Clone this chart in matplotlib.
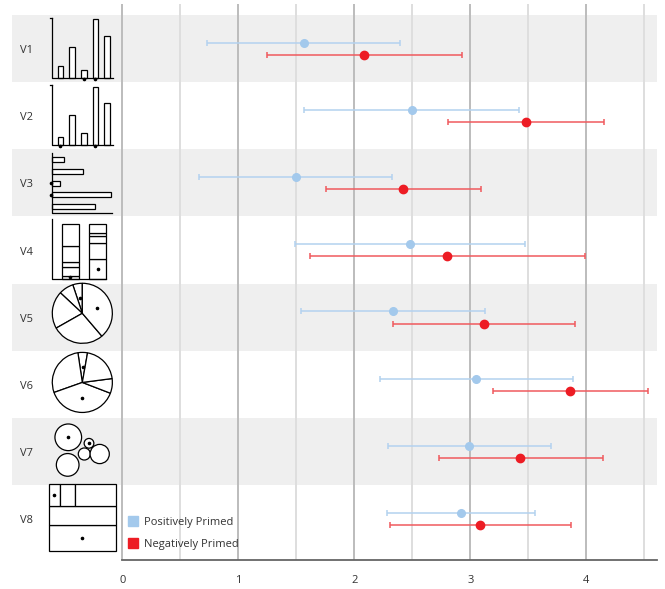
import numpy as np
import matplotlib
matplotlib.use("Agg")
import matplotlib.pyplot as plt
from matplotlib.patches import Rectangle, Circle
from matplotlib.lines import Line2D

plt.rcParams['font.family'] = ['Open Sans', 'DejaVu Sans']

# ---- data ----
rows = ["V1", "V2", "V3", "V4", "V5", "V6", "V7", "V8"]

pos_mean = [1.564, 2.495, 1.495, 2.477, 2.336, 3.049, 2.990, 2.922]
pos_lo = [0.730, 1.564, 0.661, 1.486, 1.543, 2.219, 2.288, 2.285]
pos_hi = [2.397, 3.420, 2.328, 3.474, 3.130, 3.888, 3.696, 3.560]

neg_mean = [2.086, 3.480, 2.420, 2.800, 3.115, 3.860, 3.431, 3.086]
neg_lo = [1.245, 2.810, 1.753, 1.615, 2.336, 3.193, 2.727, 2.305]
neg_hi = [2.931, 4.150, 3.092, 3.990, 3.900, 4.534, 4.141, 3.865]

# values used in the little stimulus icons (marked items get a dot)
v1_bars = [0.20, 0.51, 0.13, 0.98, 0.71]
v1_marked = [2, 3]
v2_bars = [0.13, 0.51, 0.20, 0.98, 0.71]
v2_marked = [0, 3]
v3_bars = [0.20, 0.51, 0.13, 0.98, 0.71]
v3_marked = [2, 3]
v4_stack1 = [0.05, 0.17, 0.09, 0.29, 0.40]   # bottom -> top
v4_stack2 = [0.37, 0.29, 0.12, 0.05, 0.17]
v5_pie = [0.13, 0.20, 0.51, 0.71, 0.98]
v5_marked = [0, 4]
v6_pie = [0.13, 0.71, 0.98, 0.20, 0.51]
v6_marked = [0, 2]
v7_bubbles = [0.98, 0.13, 0.20, 0.51, 0.71]
v7_marked = [0, 1]
v8_tree = [0.13, 0.20, 0.51, 0.71, 0.98]

xticks = [0, 1, 2, 3, 4]
legend_labels = ["Positively Primed", "Negatively Primed"]

blue = "#a3c9ec"
blue_line = "#b3d2ef"
red = "#ed1c24"
red_line = "#f05a5e"
band = "#efefef"
txt = "#333333"

W, H = 665, 589
fig = plt.figure(figsize=(W / 100, H / 100), dpi=100)


def px_axes(x, y, w, h):
    return fig.add_axes([x / W, 1 - (y + h) / H, w / W, h / H])


x0_px, unit = 122.3, 116.0
row_top, row_h = 15.0, 67.15
ax_top, ax_bot = 4.0, 560.0
ax = px_axes(12, ax_top, 657 - 12, ax_bot - ax_top)
ax.set_xlim(-(x0_px - 12) / unit, (657 - x0_px) / unit)
ax.set_ylim(8 + (ax_bot - row_top - 8 * row_h) / row_h, -(row_top - ax_top) / row_h)

for i in range(len(rows)):
    if i % 2 == 0:
        ax.axhspan(i, i + 1, color=band, lw=0, zorder=0)
    ax.text(-0.885, i + 0.53, rows[i], ha="left", va="center", fontsize=8, color=txt)

for g in np.arange(0, 5, 0.5):
    ax.axvline(g, color="#bcbcbc" if g % 1 == 0 else "#dedede", lw=1.4, zorder=1)

y = np.arange(len(rows))
pm, nm = np.array(pos_mean), np.array(neg_mean)
ax.errorbar(pm, y + 0.415, xerr=[pm - np.array(pos_lo), np.array(pos_hi) - pm],
            fmt="o", color=blue, ecolor=blue_line, elinewidth=1.1, capsize=2.3,
            capthick=1.1, markersize=5.5, zorder=3)
ax.errorbar(nm, y + 0.595, xerr=[nm - np.array(neg_lo), np.array(neg_hi) - nm],
            fmt="o", color=red, ecolor=red_line, elinewidth=1.1, capsize=2.3,
            capthick=1.1, markersize=6, zorder=3)

for s in ["top", "left", "right"]:
    ax.spines[s].set_visible(False)
ax.spines["bottom"].set_color("#666666")
ax.spines["bottom"].set_linewidth(1.3)
ax.spines["bottom"].set_bounds(0, ax.get_xlim()[1])
ax.set_xticks(xticks)
ax.set_yticks([])
ax.tick_params(axis="x", length=0, pad=11, labelsize=8, labelcolor=txt)

handles = [Line2D([], [], marker="s", ls="", color=blue, markersize=7),
           Line2D([], [], marker="s", ls="", color=red, markersize=7)]
fig.legend(handles, legend_labels, loc="upper left", bbox_to_anchor=(128 / W, 1 - 517 / H),
           frameon=False, fontsize=8, labelcolor=txt, handlelength=0.9,
           handletextpad=0.5, labelspacing=0.95, borderpad=0, borderaxespad=0)

# ---- stimulus icons ----
lw = 0.9


def icon_axes(i):
    a = px_axes(49, row_top + row_h * i, 66, 66)
    a.set_xlim(0, 1)
    a.set_ylim(0, 1)
    a.axis("off")
    return a


def dot(a, x, yy):
    a.plot(x, yy, "o", color="black", markersize=1.6, clip_on=False, zorder=5)


def vbars(a, vals, marked):
    a.plot([0.045, 0.045, 0.97], [0.95, 0.05, 0.05], color="black", lw=lw)
    a.plot([0.015, 0.045], [0.95, 0.95], color="black", lw=lw)
    for k, v in enumerate(vals):
        a.add_patch(Rectangle((0.13 + 0.177 * k, 0.05), 0.087, 0.9 * v,
                              fc="white", ec="black", lw=lw))
        if k in marked:
            dot(a, 0.13 + 0.177 * k + 0.043, 0.03)


for i, (vals, mk) in enumerate([(v1_bars, v1_marked), (v2_bars, v2_marked)]):
    vbars(icon_axes(i), vals, mk)

a = icon_axes(2)
a.plot([0.045, 0.045, 0.96], [0.95, 0.03, 0.03], color="black", lw=lw)
for k, v in enumerate(v3_bars):
    yc = 0.845 - 0.179 * k
    a.add_patch(Rectangle((0.045, yc - 0.038), 0.92 * v, 0.076, fc="white", ec="black", lw=lw))
    if k in v3_marked:
        dot(a, 0.03, yc)

a = icon_axes(3)
a.plot([0.045, 0.045, 0.87], [0.96, 0.055, 0.055], color="black", lw=lw)
for x_left, stack in [(0.2, v4_stack1), (0.61, v4_stack2)]:
    bottom = 0.055
    tot = sum(stack)
    for k, v in enumerate(stack):
        h = 0.83 * v / tot
        a.add_patch(Rectangle((x_left, bottom), 0.25, h, fc="white", ec="black", lw=lw))
        if k == 0:
            dot(a, x_left + 0.125, bottom + h / 2)
        bottom += h

for i, vals, mk, start, cy in [(4, v5_pie, v5_marked, 90, 0.55), (5, v6_pie, v6_marked, 80, 0.52)]:
    a = icon_axes(i)
    a.pie(vals, center=(0.505, cy), radius=0.455, startangle=start, counterclock=True,
          wedgeprops=dict(fc="white", ec="black", lw=lw))
    a.set_xlim(0, 1)
    a.set_ylim(0, 1)
    ang = start
    tot = sum(vals)
    for k, v in enumerate(vals):
        span = 360 * v / tot
        if k in mk:
            mid = np.deg2rad(ang + span / 2)
            dot(a, 0.505 + 0.23 * np.cos(mid), cy + 0.23 * np.sin(mid))
        ang += span

a = icon_axes(6)
bubble_xy = [(0.292, 0.706), (0.606, 0.615), (0.535, 0.453), (0.768, 0.453), (0.283, 0.288)]
for k, (v, (bx, by)) in enumerate(zip(v7_bubbles, bubble_xy)):
    a.add_patch(Circle((bx, by), 0.204 * np.sqrt(v), fc="white", ec="black", lw=lw, clip_on=False))
    if k in v7_marked:
        dot(a, bx, by)

a = icon_axes(7)
tot = sum(v8_tree)
x_l, x_r, y_b, y_t = 0.005, 1.01, 0.0, 1.02
h_big = (y_t - y_b) * v8_tree[4] / tot
h_mid = (y_t - y_b) * v8_tree[3] / tot
a.add_patch(Rectangle((x_l, y_b), x_r - x_l, h_big, fc="white", ec="black", lw=lw, clip_on=False))
dot(a, (x_l + x_r) / 2, y_b + h_big / 2)
a.add_patch(Rectangle((x_l, y_b + h_big), x_r - x_l, h_mid, fc="white", ec="black", lw=lw, clip_on=False))
top_tot = sum(v8_tree[:3])
xx = x_l
for k, v in enumerate(v8_tree[:3]):
    w = (x_r - x_l) * v / top_tot
    a.add_patch(Rectangle((xx, y_b + h_big + h_mid), w, y_t - y_b - h_big - h_mid,
                          fc="white", ec="black", lw=lw, clip_on=False))
    if k == 0:
        dot(a, xx + w / 2, y_b + h_big + h_mid + (y_t - y_b - h_big - h_mid) / 2)
    xx += w

fig.savefig("out.png", dpi=100)
